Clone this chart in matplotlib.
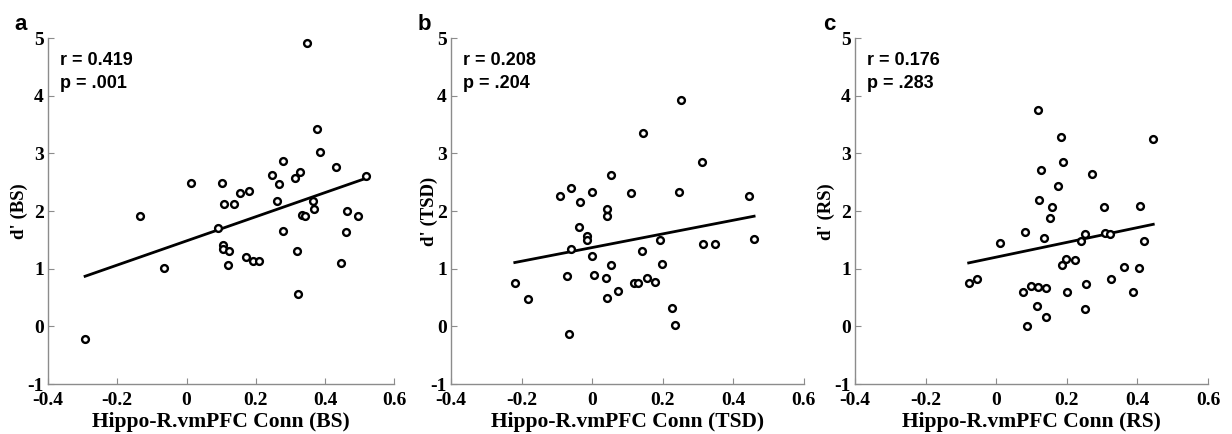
import numpy as np
import matplotlib.pyplot as plt

plt.rcParams['axes.unicode_minus'] = False

# panel a: baseline sleep (BS)
bs_conn = [0.349, 0.378, 0.386, 0.279, 0.433, 0.329, 0.247, 0.314, 0.517, 0.014,
           0.102, 0.266, 0.155, 0.180, 0.107, 0.136, 0.262, 0.365, 0.369, 0.463,
           0.333, 0.341, 0.496, -0.135, 0.091, 0.279, 0.460, 0.104, 0.105, 0.123,
           0.319, 0.172, 0.193, 0.209, 0.120, 0.445, -0.066, 0.321, -0.293]
bs_dprime = [4.92, 3.43, 3.03, 2.87, 2.76, 2.68, 2.62, 2.58, 2.61, 2.49,
             2.49, 2.47, 2.31, 2.35, 2.13, 2.12, 2.17, 2.18, 2.03, 2.01,
             1.94, 1.91, 1.91, 1.91, 1.70, 1.65, 1.64, 1.42, 1.35, 1.31,
             1.31, 1.20, 1.13, 1.13, 1.06, 1.10, 1.02, 0.555, -0.21]

# panel b: total sleep deprivation (TSD)
tsd_conn = [0.252, 0.145, 0.310, 0.054, -0.061, -0.092, 0.001, 0.111, 0.247, 0.445,
            -0.034, 0.041, 0.041, -0.038, -0.014, -0.014, -0.059, 0.192, 0.459, 0.314,
            0.347, 0.142, 0.001, 0.054, 0.199, -0.072, 0.004, 0.039, 0.156, 0.177,
            0.120, 0.131, -0.219, 0.074, -0.182, 0.042, 0.226, 0.236, -0.065]
tsd_dprime = [3.93, 3.35, 2.86, 2.62, 2.40, 2.27, 2.33, 2.32, 2.34, 2.26,
              2.15, 2.04, 1.91, 1.72, 1.57, 1.50, 1.34, 1.50, 1.51, 1.43,
              1.43, 1.31, 1.23, 1.07, 1.08, 0.87, 0.90, 0.84, 0.84, 0.77,
              0.76, 0.76, 0.75, 0.61, 0.47, 0.50, 0.32, 0.03, -0.13]

# panel c: recovery sleep (RS)
rs_conn = [0.119, 0.184, 0.445, 0.188, 0.126, 0.272, 0.174, 0.121, 0.159, 0.305,
           0.408, 0.153, 0.082, 0.010, 0.135, 0.252, 0.240, 0.308, 0.322, 0.419,
           0.198, 0.222, 0.187, 0.363, 0.405, 0.326, -0.078, -0.055, 0.100, 0.118,
           0.140, 0.254, 0.076, 0.200, 0.388, 0.117, 0.142, 0.252, 0.086]
rs_dprime = [3.76, 3.29, 3.26, 2.86, 2.72, 2.64, 2.44, 2.20, 2.08, 2.08,
             2.09, 1.88, 1.64, 1.45, 1.53, 1.60, 1.48, 1.62, 1.60, 1.49,
             1.17, 1.16, 1.06, 1.03, 1.01, 0.83, 0.76, 0.83, 0.71, 0.68,
             0.66, 0.73, 0.59, 0.59, 0.60, 0.35, 0.17, 0.30, 0.00]

panels = [
    ('a', bs_conn, bs_dprime, 'BS', 'r = 0.419', 'p = .001'),
    ('b', tsd_conn, tsd_dprime, 'TSD', 'r = 0.208', 'p = .204'),
    ('c', rs_conn, rs_dprime, 'RS', 'r = 0.176', 'p = .283'),
]

# axes boxes in figure fraction (left, width), ylabel x offset, panel letter x
boxes = [(0.039, 0.281), (0.366, 0.2865), (0.694, 0.2865)]
ylabel_x = [-0.058, -0.037, -0.058]
letter_x = [0.012, 0.339, 0.668]

serif = 'Liberation Serif'
sans = 'Liberation Sans'
spine_col = '#8c8c8c'

fig = plt.figure(figsize=(12.32, 4.34), dpi=100)

for (letter, xs, ys, cond, rtxt, ptxt), (left, width), yx, lx in zip(panels, boxes, ylabel_x, letter_x):
    ax = fig.add_axes([left, 0.115, width, 0.797])
    xs = np.array(xs)
    ys = np.array(ys)
    ax.scatter(xs, ys, s=24, facecolors='white', edgecolors='black', linewidths=1.7, zorder=3)

    slope, intercept = np.polyfit(xs, ys, 1)
    xl = np.array([xs.min(), xs.max()])
    ax.plot(xl, slope * xl + intercept, color='black', linewidth=2, zorder=2)

    ax.set_xlim(-0.4, 0.6)
    ax.set_ylim(-1, 5)
    ax.set_xticks([-0.4, -0.2, 0, 0.2, 0.4, 0.6])
    ax.set_xticklabels(['-0.4', '-0.2', '0', '0.2', '0.4', '0.6'])
    ax.set_yticks(range(-1, 6))
    for s in ['top', 'right']:
        ax.spines[s].set_visible(False)
    for s in ['left', 'bottom']:
        ax.spines[s].set_color(spine_col)
        ax.spines[s].set_linewidth(1)
    ax.tick_params(direction='in', length=4, color=spine_col, labelsize=14)
    ax.tick_params(axis='x', pad=6)
    ax.tick_params(axis='y', pad=3)
    for t in ax.get_xticklabels() + ax.get_yticklabels():
        t.set_fontfamily(serif)
        t.set_fontweight('bold')

    ax.set_xlabel(f'Hippo-R.vmPFC Conn ({cond})', fontfamily=serif, fontweight='bold',
                  fontsize=15.5, labelpad=2)
    ax.set_ylabel(f"d' ({cond})", fontfamily=serif, fontweight='bold', fontsize=13.5)
    ax.yaxis.set_label_coords(yx, 0.5)

    ax.text(0.034, 0.96, rtxt, transform=ax.transAxes, fontfamily=sans, fontweight='bold',
            fontsize=13, va='top')
    ax.text(0.034, 0.895, ptxt, transform=ax.transAxes, fontfamily=sans, fontweight='bold',
            fontsize=13, va='top')

    fig.text(lx, 0.93, letter, fontfamily=sans, fontweight='bold', fontsize=16)

plt.savefig('out.png', dpi=100)
